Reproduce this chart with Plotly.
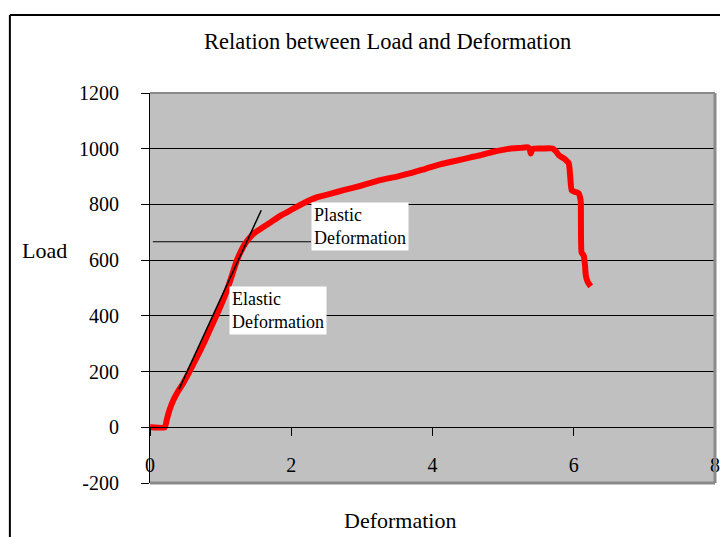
import plotly.graph_objects as go

# Measured load-deformation curve
deformation = [0, 0.21, 0.24, 0.28, 0.33, 0.40, 0.47, 0.55, 0.64, 0.72,
               0.78, 0.89, 1.00, 1.09, 1.16, 1.23, 1.28, 1.33, 1.40, 1.48,
               1.60, 1.72, 1.85, 1.99, 2.18, 2.37, 2.55, 2.74, 3.0, 3.26,
               3.5, 3.69, 3.9, 4.11, 4.3, 4.54, 4.7, 4.89, 5.0, 5.11,
               5.25, 5.35, 5.38, 5.39, 5.42, 5.55, 5.70, 5.75, 5.79, 5.86,
               5.93, 5.95, 5.97, 6.02, 6.07, 6.09, 6.10, 6.11, 6.14, 6.16,
               6.17, 6.20, 6.24]
load = [0, 0, 30, 65, 97, 130, 158, 195, 240, 280,
        312, 373, 435, 492, 545, 599, 628, 652, 677, 698,
        718, 738, 760, 779, 805, 826, 838, 851, 868, 887,
        900, 912, 928, 944, 955, 969, 978, 991, 996, 1001,
        1003, 1005, 995, 983, 1000, 1001, 1001, 990, 976, 965,
        947, 900, 851, 845, 840, 825, 808, 628, 617, 580,
        546, 520, 506]

# Elastic tangent line and horizontal marker line
tangent_x = [0.41, 1.575]
tangent_y = [136, 779]
marker_x = [0.04, 2.28]
marker_y = [666, 666]

x_ticks = [0, 2, 4, 6, 8]
x_tick_labels = ["0", "2", "4", "6", "8"]
y_ticks = [-200, 0, 200, 400, 600, 800, 1000, 1200]
y_tick_labels = ["-200", "0", "200", "400", "600", "800", "1000", "1200"]

FONT = "Liberation Serif, Times New Roman, serif"

fig = go.Figure()
fig.add_trace(go.Scatter(x=marker_x, y=marker_y, mode="lines",
                         line=dict(color="black", width=1), hoverinfo="skip"))
fig.add_trace(go.Scatter(x=deformation, y=load, mode="lines",
                         line=dict(color="#FF0000", width=6, shape="spline", smoothing=0.4)))
fig.add_trace(go.Scatter(x=tangent_x, y=tangent_y, mode="lines",
                         line=dict(color="black", width=1.5), hoverinfo="skip"))

fig.update_layout(
    width=720, height=537,
    margin=dict(l=150, r=5, t=93, b=54, autoexpand=False),
    paper_bgcolor="white",
    plot_bgcolor="#C0C0C0",
    showlegend=False,
    font=dict(family=FONT, color="black", size=20),
    xaxis=dict(range=[0, 8], tickvals=x_ticks, ticktext=x_tick_labels,
               showgrid=False, zeroline=False, automargin=False,
               showline=True, linecolor="black", linewidth=1,
               ticks="outside", ticklen=8, tickcolor="black",
               anchor="free", position=1/7, ticklabelstandoff=12,
               tickfont=dict(size=20, family=FONT)),
    yaxis=dict(range=[-200, 1200], tickvals=y_ticks, ticktext=y_tick_labels,
               showgrid=True, automargin=False,
               gridcolor="black", gridwidth=1, zeroline=False,
               showline=True, linecolor="black", linewidth=1,
               ticks="outside", ticklen=8, tickcolor="black",
               ticklabelstandoff=18, tickfont=dict(size=20, family=FONT)),
    shapes=[
        # plot-area border (top, right, bottom)
        dict(type="line", xref="paper", yref="paper", x0=0, x1=1, y0=1, y1=1,
             line=dict(color="#8a8a8a", width=2), layer="above"),
        dict(type="line", xref="paper", yref="paper", x0=1, x1=1, y0=0, y1=1,
             line=dict(color="#8a8a8a", width=3), layer="above"),
        dict(type="line", xref="paper", yref="paper", x0=0, x1=1, y0=0, y1=0,
             line=dict(color="#8a8a8a", width=3), layer="above"),
        # outer chart border
        dict(type="line", xref="paper", yref="paper", x0=-0.248, x1=1.02,
             y0=1.2, y1=1.2, line=dict(color="black", width=2)),
        dict(type="line", xref="paper", yref="paper", x0=-0.248, x1=-0.248,
             y0=1.2, y1=-0.2, line=dict(color="black", width=2)),
    ],
    annotations=[
        dict(text="Relation between Load and Deformation", xref="paper", yref="paper",
             x=0.42, y=1.131, showarrow=False, font=dict(size=22.5, family=FONT),
             xanchor="center", yanchor="middle"),
        dict(text="Load", xref="paper", yref="paper", x=-0.186, y=0.597,
             showarrow=False, font=dict(size=22, family=FONT),
             xanchor="center", yanchor="middle"),
        dict(text="Deformation", xref="paper", yref="paper", x=0.4425, y=-0.097,
             showarrow=False, font=dict(size=22, family=FONT),
             xanchor="center", yanchor="middle"),
        dict(text="Plastic<br>Deformation", x=2.28, y=808, xref="x", yref="y",
             xanchor="left", yanchor="top", align="left", showarrow=False,
             bgcolor="white", borderpad=2, font=dict(size=18, family=FONT)),
        dict(text="Elastic<br>Deformation", x=1.12, y=506, xref="x", yref="y",
             xanchor="left", yanchor="top", align="left", showarrow=False,
             bgcolor="white", borderpad=2, font=dict(size=18, family=FONT)),
    ],
)

fig.write_html("out.html", config={"displayModeBar": False},
               post_script="document.body.style.margin='0px';document.body.style.overflow='hidden';")
